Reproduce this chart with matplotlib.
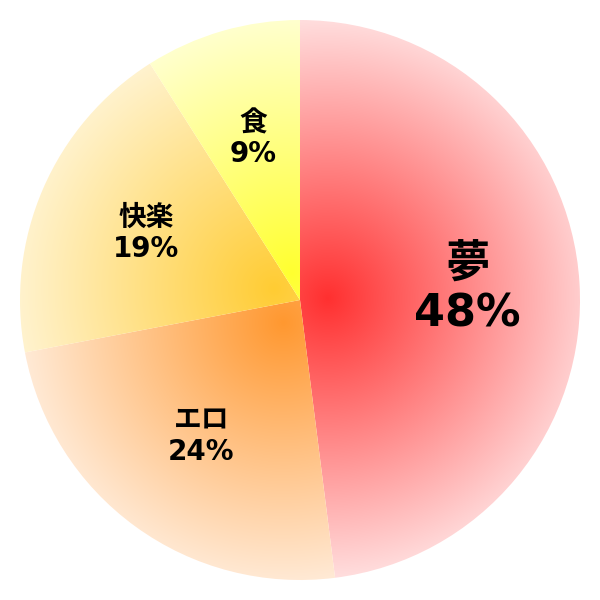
import numpy as np
import matplotlib
matplotlib.use('Agg')
import matplotlib.pyplot as plt
from matplotlib.colors import to_rgb

# --- Daten ---
labels = ['夢', 'エロ', '快楽', '食']
values = [48, 24, 19, 9]
inner_colors = ['#ff3030', '#ff9830', '#ffcc33', '#ffff30']
outer_colors = ['#ffdede', '#fff0e2', '#fff6dc', '#ffffde']
label_sizes = [32, 20, 20, 20]

plt.rcParams['font.family'] = ['DejaVu Sans', 'Noto Sans CJK JP']

fig = plt.figure(figsize=(6, 6), dpi=100)
ax = fig.add_axes([0, 0, 1, 1])
lim = 300 / 280

wedges, _ = ax.pie(values, startangle=90, counterclock=False, radius=1.0,
                   wedgeprops=dict(facecolor='none', edgecolor='none'))
ax.set_xlim(-lim, lim)
ax.set_ylim(-lim, lim)
ax.set_aspect('equal')
ax.axis('off')

# --- Verlauf je Segment ---
n = 600
xs = np.linspace(-lim, lim, n)
X, Y = np.meshgrid(xs, xs[::-1])

for w, lab, val, c_in, c_out, fs in zip(wedges, labels, values, inner_colors, outer_colors, label_sizes):
    mid = np.deg2rad((w.theta1 + w.theta2) / 2)
    fx, fy = 0.1 * np.cos(mid), 0.1 * np.sin(mid)
    d = np.hypot(X - fx, Y - fy)
    t = np.clip(d, 0, 1)[..., None]
    img = (1 - t) * np.array(to_rgb(c_in)) + t * np.array(to_rgb(c_out))
    im = ax.imshow(img, extent=(-lim, lim, -lim, lim), interpolation='bilinear', zorder=1)
    im.set_clip_path(w)

    lx, ly = 0.6 * np.cos(mid), 0.6 * np.sin(mid)
    ax.text(lx, ly, f'{lab}\n{val}%', ha='center', va='center', fontsize=fs,
            fontweight='bold', linespacing=1.15, zorder=3)

fig.savefig('out.png', dpi=100)
